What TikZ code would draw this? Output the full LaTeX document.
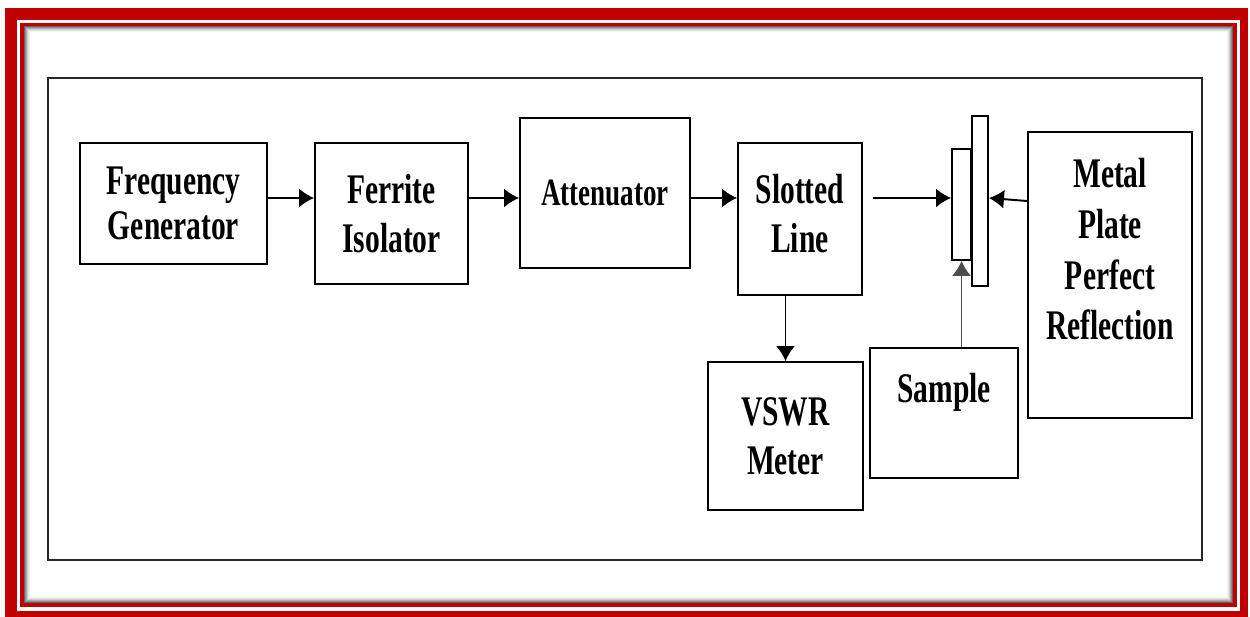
\documentclass[tikz,border=0pt]{standalone}
\usepackage{fontspec}
\newfontfamily\blockfont[FakeStretch=0.7]{Liberation Serif}
\usetikzlibrary{arrows.meta,calc}

\definecolor{framered}{RGB}{192,0,0}

\begin{document}
\begin{tikzpicture}[x=0.02cm, y=-0.02cm, line width=1.1pt,
  blk/.style={draw, inner sep=0pt, align=center,
    font=\blockfont\bfseries\fontsize{24}{28}\selectfont},
  arr/.style={-{Latex[length=0.3cm, width=0.38cm]}}]
  \useasboundingbox (0,0) rectangle (1250,617);
  % red frame with shadowed panel
  \fill[framered] (5,8) rectangle (1248,617);
  \fill[white] (17,20) rectangle (1240,611);
  \fill[framered] (20,23) rectangle (1237,607);
  \fill[white] (24,26) rectangle (1233,603);
  \foreach \i/\c in {0/60,1/45,2/32,3/20,4/10,5/5}
    \draw[black!\c, line width=0.02cm] (24.5+\i,26.5+\i) rectangle (1232.5-\i,602.5-\i);
  \draw[black!85] (48,78) rectangle (1202,560);

  % blocks
  \node[blk, minimum width=3.74cm, minimum height=2.42cm,
    font=\blockfont\bfseries\fontsize{24}{26}\selectfont] (fg) at (173.5,203.5) {Frequency\\Generator};
  \node[blk, minimum width=3.06cm, minimum height=2.82cm] (fi) at (391.5,213.5) {Ferrite\\Isolator};
  \node[blk, minimum width=3.4cm, minimum height=3.0cm,
    font=\blockfont\bfseries\fontsize{22}{26}\selectfont] (att) at (605,193) {Attenuator};
  \node[blk, minimum width=2.48cm, minimum height=3.04cm, text depth=0.24cm] (sl) at (800,219) {Slotted\\Line};
  \node[blk, minimum width=3.1cm, minimum height=2.96cm] (vswr) at (785.5,436) {VSWR\\Meter};
  \node[blk, minimum width=2.96cm, minimum height=2.6cm, text height=0.6cm, text depth=1cm] (sample) at (944,413) {Sample};
  \node[blk, minimum width=3.28cm, minimum height=5.72cm, text height=3.65cm, text depth=1.05cm,
    font=\blockfont\bfseries\fontsize{24}{29}\selectfont] (metal) at (1110,275) {Metal\\Plate\\Perfect\\Reflection};
  \node[draw, inner sep=0pt, minimum width=0.38cm, minimum height=2.22cm] (film) at (961.5,204.5) {};
  \node[draw, inner sep=0pt, minimum width=0.32cm, minimum height=3.4cm] (plate) at (980,201) {};

  % connectors
  \coordinate (axis) at (0,198);
  \draw[arr] (fg.east |- axis) -- (fi.west |- axis);
  \draw[arr] (fi.east |- axis) -- (att.west |- axis);
  \draw[arr] (att.east |- axis) -- (sl.west |- axis);
  \draw[arr] ($(sl.east |- axis)+(10,0)$) -- (film.west |- axis);
  \draw[arr] ($(metal.west |- axis)+(0,3)$) -- (plate.east |- axis);
  \draw[arr] (vswr.north |- sl.south) -- (vswr.north);
  \draw[arr, gray!60!black, line width=0.8pt] (film.south |- sample.north) -- (film.south);
\end{tikzpicture}
\end{document}
